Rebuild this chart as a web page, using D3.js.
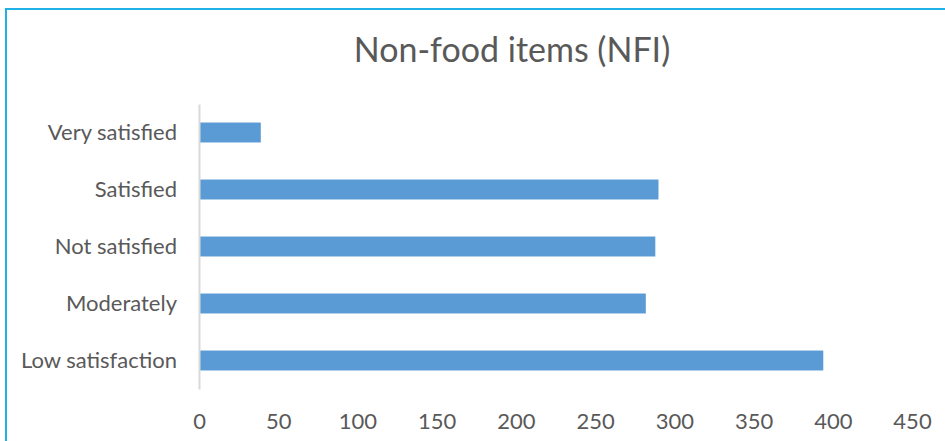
<!DOCTYPE html>
<html><head><meta charset="utf-8">
<script src="https://cdn.jsdelivr.net/npm/d3@7"></script>
<style>html,body{margin:0;padding:0;background:#fff;overflow:hidden}</style>
</head><body>
<script>
const categories = ["Very satisfied","Satisfied","Not satisfied","Moderately","Low satisfaction"];
const values = [39, 290, 288, 282, 394];
const xTicks = [0,50,100,150,200,250,300,350,400,450];
const title = "Non-food items (NFI)";

const W = 945, H = 441;
const svg = d3.select("body").append("svg").attr("width", W).attr("height", H);
const font = "Lato, 'Open Sans', sans-serif";

svg.append("rect").attr("x", 6).attr("y", 9).attr("width", W + 10).attr("height", H + 10)
  .attr("fill", "#fff").attr("stroke", "#1fb0e6").attr("stroke-width", 2);

svg.append("text").attr("x", 512).attr("y", 62).attr("text-anchor", "middle")
  .attr("font-family", font).attr("font-size", 34).attr("fill", "#595959").text(title);

const x = d3.scaleLinear().domain([0, 450]).range([199, 912]);
const y = d3.scaleBand().domain(categories).range([104, 389]).paddingInner(0.65).paddingOuter(0.325);

svg.selectAll("rect.bar").data(categories).join("rect").attr("class","bar")
  .attr("x", x(0)).attr("y", d => y(d)).attr("height", y.bandwidth())
  .attr("width", (d,i) => x(values[i]) - x(0)).attr("fill", "#5b9bd5");

const yAxis = svg.append("g").attr("transform", `translate(${x(0)},0)`)
  .call(d3.axisLeft(y).tickSize(0).tickPadding(22));
yAxis.select(".domain").attr("stroke", "#d9d9d9").attr("stroke-width", 2);
yAxis.selectAll("text").attr("font-family", font).attr("font-size", 22).attr("fill", "#595959");

const xAxis = svg.append("g").attr("transform", `translate(0,${400})`)
  .call(d3.axisBottom(x).tickValues(xTicks).tickSize(0).tickPadding(13));
xAxis.select(".domain").remove();
xAxis.selectAll("text").attr("font-family", font).attr("font-size", 22).attr("fill", "#595959");
</script>
</body></html>
